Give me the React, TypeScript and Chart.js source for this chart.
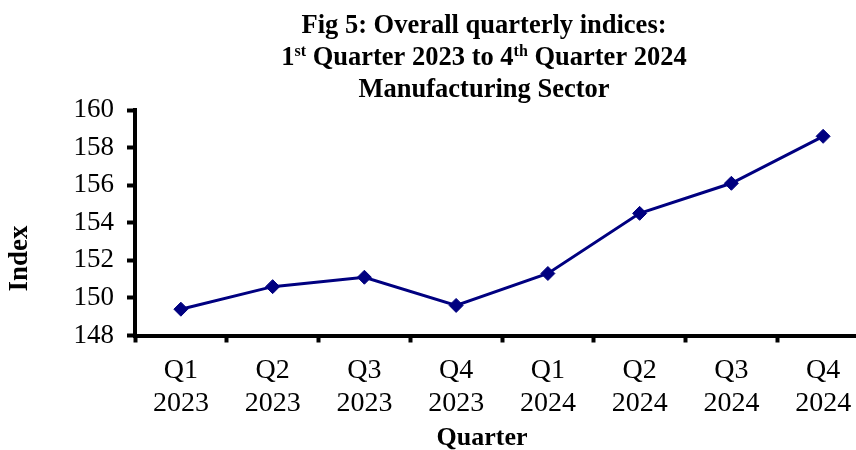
import React, { useEffect, useRef } from "react";
import { Chart, registerables } from "chart.js";

Chart.register(...registerables);

const categories: string[][] = [
  ["Q1", "2023"],
  ["Q2", "2023"],
  ["Q3", "2023"],
  ["Q4", "2023"],
  ["Q1", "2024"],
  ["Q2", "2024"],
  ["Q3", "2024"],
  ["Q4", "2024"],
];
const indexValues: number[] = [149.4, 150.6, 151.1, 149.6, 151.3, 154.5, 156.1, 158.6];
const yMin = 148;
const yMax = 160;
const yStep = 2;

const titleLine1 = "Fig 5: Overall quarterly indices:";
const titleLine2: { t: string; sup: boolean }[] = [
  { t: "1", sup: false },
  { t: "st", sup: true },
  { t: " Quarter 2023 to 4", sup: false },
  { t: "th", sup: true },
  { t: " Quarter 2024", sup: false },
];
const titleLine3 = "Manufacturing Sector";
const xTitle = "Quarter";
const yTitle = "Index";

const SERIF = "'Liberation Serif', 'Times New Roman', serif";
const NAVY = "#000080";

const textPlugin = {
  id: "customText",
  afterDraw(chart: any) {
    const ctx = chart.ctx as CanvasRenderingContext2D;
    ctx.save();
    ctx.fillStyle = "#000";
    ctx.textBaseline = "alphabetic";
    const cx = 484;
    const bold = `bold 26.5px ${SERIF}`;
    const supFont = `bold 16px ${SERIF}`;
    ctx.font = bold;
    ctx.textAlign = "center";
    ctx.fillText(titleLine1, cx, 33);
    ctx.fillText(titleLine3, cx, 97);
    // line 2 with superscripts
    ctx.textAlign = "left";
    let total = 0;
    const widths = titleLine2.map((s) => {
      ctx.font = s.sup ? supFont : bold;
      const w = ctx.measureText(s.t).width;
      total += w;
      return w;
    });
    let x = cx - total / 2;
    titleLine2.forEach((s, i) => {
      ctx.font = s.sup ? supFont : bold;
      ctx.fillText(s.t, x, s.sup ? 56 : 65);
      x += widths[i];
    });
    // x axis title
    ctx.font = `bold 26px ${SERIF}`;
    ctx.textAlign = "center";
    ctx.fillText(xTitle, 482, 445);
    // y axis title
    ctx.font = `bold 27px ${SERIF}`;
    ctx.translate(27, 258.5);
    ctx.rotate(-Math.PI / 2);
    ctx.fillText(yTitle, 0, 0);
    ctx.restore();
  },
};

export default function App() {
  const canvasRef = useRef<HTMLCanvasElement | null>(null);

  useEffect(() => {
    document.documentElement.style.overflow = "hidden";
    document.body.style.overflow = "hidden";
    const canvas = canvasRef.current;
    if (!canvas) return;
    const chart = new Chart(canvas, {
      type: "line",
      data: {
        labels: categories,
        datasets: [
          {
            data: indexValues,
            borderColor: NAVY,
            backgroundColor: NAVY,
            borderWidth: 3,
            pointStyle: "rectRot",
            pointRadius: 7,
            pointBorderWidth: 1,
            pointBackgroundColor: NAVY,
            pointBorderColor: NAVY,
            tension: 0,
            fill: false,
          },
        ],
      },
      options: {
        responsive: false,
        animation: false,
        devicePixelRatio: 1,
        layout: { padding: { left: 0, top: 110, right: 11, bottom: 0 } },
        plugins: {
          legend: { display: false },
          title: { display: false },
          tooltip: { enabled: false },
        },
        scales: {
          x: {
            type: "category",
            offset: true,
            grid: {
              offset: true,
              display: true,
              drawOnChartArea: false,
              drawTicks: true,
              tickLength: 7,
              tickWidth: 4,
              tickColor: "#000",
              color: "#000",
            },
            border: { display: true, color: "#000", width: 4 },
            ticks: {
              color: "#000",
              font: { family: SERIF, size: 28, lineHeight: 1.18 },
              padding: 12,
              maxRotation: 0,
              autoSkip: false,
            },
            afterFit(scale: any) {
              scale.height = 114.5;
            },
          },
          y: {
            min: yMin,
            max: yMax,
            grid: {
              display: true,
              drawOnChartArea: false,
              drawTicks: true,
              tickLength: 8,
              tickWidth: 4,
              tickColor: "#000",
              color: "#000",
            },
            border: { display: true, color: "#000", width: 4 },
            ticks: {
              stepSize: yStep,
              color: "#000",
              font: { family: SERIF, size: 27 },
              padding: 13,
            },
            afterFit(scale: any) {
              scale.width = 135;
            },
          },
        },
      },
      plugins: [textPlugin],
    });
    return () => {
      chart.destroy();
    };
  }, []);

  return (
    <div style={{ position: "fixed", left: 0, top: 0, width: 856, height: 450, overflow: "hidden", background: "#fff" }}>
      <canvas ref={canvasRef} width={880} height={450} style={{ width: 880, height: 450, display: "block" }} />
    </div>
  );
}
